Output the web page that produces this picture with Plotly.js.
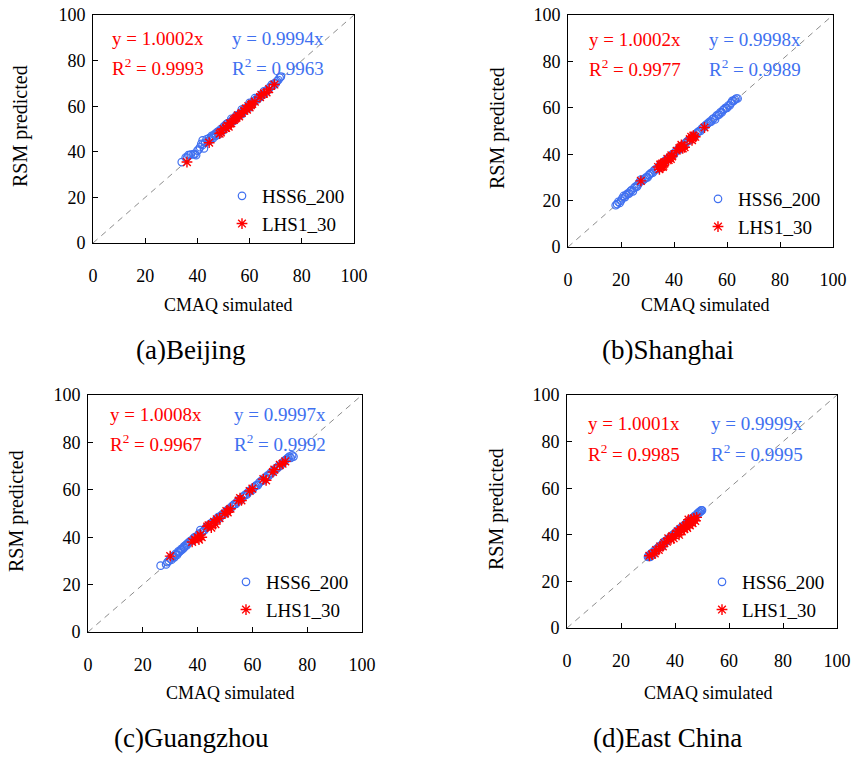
<!DOCTYPE html>
<html>
<head>
<meta charset="utf-8">
<script src="https://cdn.plot.ly/plotly-3.0.1.min.js"></script>
<style>html,body{margin:0;padding:0;background:#fff;}#chart{width:853px;height:758px;}</style>
</head>
<body>
<div id="chart"></div>
<script>
// ---------- data ----------
var seriesNames = ['HSS6_200', 'LHS1_30'];
var panelCaptions = ['(a)Beijing', '(b)Shanghai', '(c)Guangzhou', '(d)East China'];
var xTitle = 'CMAQ simulated';
var yTitle = 'RSM predicted';
var tickVals = [0, 20, 40, 60, 80, 100];
var diagLine = [0, 100];

var redSlope = ['1.0002', '1.0002', '1.0008', '1.0001'];
var redR2 = ['0.9993', '0.9977', '0.9967', '0.9985'];
var blueSlope = ['0.9994', '0.9998', '0.9997', '0.9999'];
var blueR2 = ['0.9963', '0.9989', '0.9992', '0.9995'];

// (a) Beijing
var bjHssX = [34,35.5,36.5,37.5,38.5,39.5,40,41,41.5,42,42.5,43,43.5,44,44.5,45,45.5,46,46.5,47,47.5,48,48.5,49,49.5,50,50.5,51,51.5,52,52.5,53,53.5,54,54.5,55,55.5,56,56.5,57,57.5,58,58.5,59,59.5,60,60.5,61,61.5,62,63,64,65,66,67,68,69,70,71,72,
  44.5,45.5,47,48,49,50,51,53,55,57,58,60,62,62.5,63.5,64.5,65.5,66.5,67.5,68.5,69.5,70.5,71.5,36,37,39,40.5,42];
var bjHssY = [35.5,37.5,38.5,38.8,39,38.5,40.5,42,43.5,45,41.5,44,45.5,44.5,46,45.5,47,46,47.5,47,48.5,47.5,49,49.5,50,49.5,51,51,52.5,52,53,53.5,54,53.5,55,55,56,56,57,56.5,58,58,59,59,60,59.5,61,61,62,63.5,63,64,65,66,67,68.5,69,70,71.5,73,
  45,46.5,48,49,50,51,52,54.5,56,58.5,59,61.5,62.5,63,64,65,66.5,67,68,69.5,70,71,72.5,37.5,38.5,39,41,43];
var bjLhsX = [36,44.5,48.5,49,50,51,51.5,52,52.5,53,54,54.5,55,55.5,56,57,58,58.5,59,59.5,60,60.5,61,62,64,64.5,65.5,66.5,67.5,69.5];
var bjLhsY = [35.5,44,48,48.5,50,50.5,51.5,51,52.5,52.5,54,54.5,55,56,55.5,57,58,59,58.5,60,59.5,60.5,61,62,64,65,65.5,66,67.5,69.5];

// (b) Shanghai
var shHssX = [18,19,20,21,22,23,24,24.5,25,26,27,27.5,28,29,30,30.5,31,32,33,34,35,36,36.5,37,38,39,40,41,42,43,44,44.5,45,46,47,48,49,50,51,52,52.5,53,54,55,55.5,56,57,58,59,60,61,62,63,64,
  18.5,19.5,20.5,21.5,22.5,23.5,25.5,26.5,28.5,29.5,31.5,32.5,33.5,34.5,35.5,37.5,38.5,39.5,40.5,41.5,42.5,43.5,45.5,46.5,47.5,48.5,49.5,50.5,51.5,53.5,54.5,56.5,57.5,58.5,59.5,60.5,61.5,62.5,63.5];
var shHssY = [18,19.5,20,22,22.5,23,24.5,24,25.5,26,28,29,28.5,29.5,30,31,31.5,32,33.5,34,35.5,36,37,37.5,38,39.5,40,41.5,42,43.5,44,45,45.5,46,47.5,48,49.5,50,51.5,52.5,53,53.5,54,55.5,55,56.5,57,58,59.5,60,61,63,63.5,64,
  18.5,19,21,21.5,23,24,26,27,29,30,32,33,33.5,35,36,38,39,40,41,42,43,44,46,47,48,49,50,51,52,54,55,57,58,59,60,61,62,63,64];
var shLhsX = [27.5,34,34.5,35,35.2,35.5,36,36.3,34.8,35.8,37.5,38,38.5,39,38.8,39.3,41,42,42.5,43,43.3,42.8,44,46,46.5,47,47.3,46.8,48,51.5];
var shLhsY = [28.5,34.5,33.5,35.5,34.5,36,35,36.5,35.5,34.5,38,37.5,38.5,39.5,38,39,41.5,42.5,43,43.5,42.5,44,43,46.5,47.5,47,48,46,47.5,51.5];

// (c) Guangzhou
var gzHssX = [26.5,28.5,29,29.5,30,30.5,31,31.5,32,32.5,33,33.5,34,34.5,35,35.5,36,37,38,39,40,41,42,43,44,45,46,47,48,49,50,51,52,53,54,55,56,57,58,59,60,61,62,63,64,65,66,67,68,69,70,71,72,73,74,74.5,75,
  31,32,33,34,35,36,36.5,37.5,38.5,39.5,40.5,41.5,42.5,43.5,44.5,45.5,46.5,47.5,48.5,49.5,50.5,51.5,52.5,53.5,54.5,55.5,56.5,57.5,58.5,59.5,60.5,61.5,62.5,63.5,64.5,65.5,66.5,67.5,68.5,69.5,70.5,71.5,72.5,73.5];
var gzHssY = [28,28.5,29.5,30,31,30.5,32,31.5,33,32.5,33.5,34,34.5,35,35.5,36.5,37,38,38.5,40,40.5,43,42.5,44,44.5,46,46.5,47.5,48,49.5,50,51.5,52,53.5,54,55.5,56,57.5,58,59.5,60,61.5,62,63.5,64,65,66,67,68,69,70,71,72.5,73.5,73.5,74.5,74,
  31.5,32.5,34,35,36,36.5,37.5,38.5,39.5,40,41.5,42,43,44.5,45.5,46,47,48.5,49,50,51,52,53,54,55,56,57,58,59,60,61,62,63,64,65,66,67,68,69,70,71,72,73,74];
var gzLhsX = [30,38,39,40,40.5,41,41.5,43.5,44,45,46,46.5,47,48,50,50.5,51,52,55,55.5,56,59,60,64,65,67.5,68,70,71,72];
var gzLhsY = [32,38,39,40,39,41,40,44.5,45,44,46.5,45.5,47.5,48,50,51,50.5,52,55.5,56.5,55.5,59.5,60.5,64.5,64,67.5,68.5,70.5,71,72];

// (d) East China
var ecHssX = [30,30.5,31,31.5,32,32.5,33,33.5,34,34.5,35,35.5,36,36.5,37,37.5,38,38.5,39,39.5,40,40.5,41,41.5,42,42.5,43,43.5,44,44.5,45,45.5,46,46.5,47,47.5,48,48.5,49,49.5,50,
  30.2,30.8,31.2,31.8,32.2,33.2,34.2,35.2,36.2,37.2,38.2,39.2,40.2,41.2,42.2,43.2,44.2,45.2,46.2,47.2,48.2,49.2,49.7,48.7];
var ecHssY = [30.5,31,31.5,32,32.5,33,33.5,34,34.5,35,35.5,36.5,37,37,37.5,38,38.5,39,39.5,40,40.5,41,41.5,42,42.5,43,43.5,44,44.5,45,45.5,46,46.5,47,47.5,48,48.5,49,49.5,50,50.5,
  31,30.5,32,31.5,33,34,35,35,37,38,39,40,41,42,43,44,45,46,47,48,49,50,50.5,49.5];
var ecLhsX = [30.5,31.5,32.5,33,34,34.5,35.5,36,37,37.5,38.5,39,39.5,40.5,41,41.5,42,42.5,43,43.5,44,44.5,45,45.5,46,46.5,47,47.5,48,45];
var ecLhsY = [31,31.5,32,33.5,33.5,35,35,36.5,37,38.5,38,39.5,38.5,40.5,41.5,40,42.5,41.5,43.5,42.5,44,43,45.5,44,46.5,45,47,46,47.5,46.5];

// ---------- layout helpers ----------
var W = 853, H = 758;
var FONT = 'Liberation Serif, Times New Roman, Times, serif';
var RED = '#ff0000';
var BLUE = '#4070f0';

// plot boxes in pixels [left, right, top, bottom]
var boxes = [
  [93, 354, 15, 243],
  [568, 833, 15, 247],
  [88, 362, 395, 632],
  [567, 837, 395, 628]
];
var panelData = [
  [bjHssX, bjHssY, bjLhsX, bjLhsY],
  [shHssX, shHssY, shLhsX, shLhsY],
  [gzHssX, gzHssY, gzLhsX, gzLhsY],
  [ecHssX, ecHssY, ecLhsX, ecLhsY]
];
// text positions in pixels
var eqPos = [ // [redLeft, blueLeft, row1Y, row2Y]
  [110, 230, 38, 67],
  [587, 707, 39, 68],
  [108, 232, 414, 443],
  [586, 709, 423, 453]
];
var legPos = [ // [rightX, topY]
  [350, 177],
  [826, 180],
  [354, 563],
  [830, 563]
];
var xTitlePos = [[229, 305], [705, 305], [230, 693], [708, 693]];
var yTitlePos = [[20, 126], [498, 128], [16, 511], [496, 509]];
var capPos = [[190, 350], [668, 350], [191, 738], [667, 738]];

function px(x) { return x / W; }
function py(y) { return 1 - y / H; }

var traces = [];
var layout = {
  width: W, height: H,
  margin: {l: 0, r: 0, t: 0, b: 0},
  paper_bgcolor: '#ffffff',
  plot_bgcolor: '#ffffff',
  font: {family: FONT, size: 18, color: '#000'},
  showlegend: true,
  annotations: []
};

for (var i = 0; i < 4; i++) {
  var n = i + 1;
  var xa = 'x' + (n === 1 ? '' : n);
  var ya = 'y' + (n === 1 ? '' : n);
  var xKey = 'xaxis' + (n === 1 ? '' : n);
  var yKey = 'yaxis' + (n === 1 ? '' : n);
  var legKey = 'legend' + (n === 1 ? '' : n);
  var b = boxes[i];
  var d = panelData[i];

  traces.push({
    x: diagLine, y: diagLine, xaxis: xa, yaxis: ya, mode: 'lines',
    line: {color: '#8c8c8c', width: 1, dash: '6px,5px'},
    showlegend: false, hoverinfo: 'skip'
  });
  traces.push({
    x: d[0], y: d[1], xaxis: xa, yaxis: ya, mode: 'markers', name: seriesNames[0],
    legend: legKey,
    marker: {symbol: 'circle-open', size: 7.5, color: BLUE, line: {color: BLUE, width: 1.2}}
  });
  traces.push({
    x: d[2], y: d[3], xaxis: xa, yaxis: ya, mode: 'markers', name: seriesNames[1],
    legend: legKey,
    marker: {symbol: 'asterisk-open', size: 9, color: RED, line: {color: RED, width: 1.4}}
  });

  var axCommon = {
    range: [0, 100], tickvals: tickVals, ticks: 'inside', ticklen: 5, tickwidth: 1,
    tickcolor: '#000', showline: true, linecolor: '#000', linewidth: 1, mirror: true,
    showgrid: false, zeroline: false, fixedrange: true,
    tickfont: {family: FONT, size: 18, color: '#000'}
  };
  layout[xKey] = Object.assign({}, axCommon, {
    domain: [px(b[0]), px(b[1])], anchor: ya, ticklabelstandoff: 16
  });
  layout[yKey] = Object.assign({}, axCommon, {
    domain: [py(b[3]), py(b[2])], anchor: xa, ticklabelstandoff: 3
  });

  layout[legKey] = {
    x: px(legPos[i][0]), y: py(legPos[i][1]), xanchor: 'right', yanchor: 'top',
    xref: 'paper', yref: 'paper',
    bgcolor: 'rgba(0,0,0,0)', borderwidth: 0, tracegroupgap: 0,
    font: {family: FONT, size: 19, color: '#000'}
  };

  var e = eqPos[i];
  var eqAnn = [
    [e[0], e[2], 'y = ' + redSlope[i] + 'x', RED],
    [e[0], e[3], 'R<sup>2</sup> = ' + redR2[i], RED],
    [e[1], e[2], 'y = ' + blueSlope[i] + 'x', BLUE],
    [e[1], e[3], 'R<sup>2</sup> = ' + blueR2[i], BLUE]
  ];
  eqAnn.forEach(function (a) {
    layout.annotations.push({
      xref: 'paper', yref: 'paper', x: px(a[0]), y: py(a[1]),
      xanchor: 'left', yanchor: 'middle', showarrow: false, text: a[2],
      font: {family: FONT, size: 19, color: a[3]}
    });
  });

  layout.annotations.push({
    xref: 'paper', yref: 'paper', x: px(xTitlePos[i][0]), y: py(xTitlePos[i][1]),
    xanchor: 'center', yanchor: 'middle', showarrow: false, text: xTitle,
    font: {family: FONT, size: 18, color: '#000'}
  });
  layout.annotations.push({
    xref: 'paper', yref: 'paper', x: px(yTitlePos[i][0]), y: py(yTitlePos[i][1]),
    xanchor: 'center', yanchor: 'middle', showarrow: false, text: yTitle, textangle: -90,
    font: {family: FONT, size: 20, color: '#000'}
  });
  layout.annotations.push({
    xref: 'paper', yref: 'paper', x: px(capPos[i][0]), y: py(capPos[i][1]),
    xanchor: 'center', yanchor: 'middle', showarrow: false, text: panelCaptions[i],
    font: {family: FONT, size: 27, color: '#000'}
  });
}

Plotly.newPlot('chart', traces, layout, {staticPlot: true, displayModeBar: false});
</script>
</body>
</html>
